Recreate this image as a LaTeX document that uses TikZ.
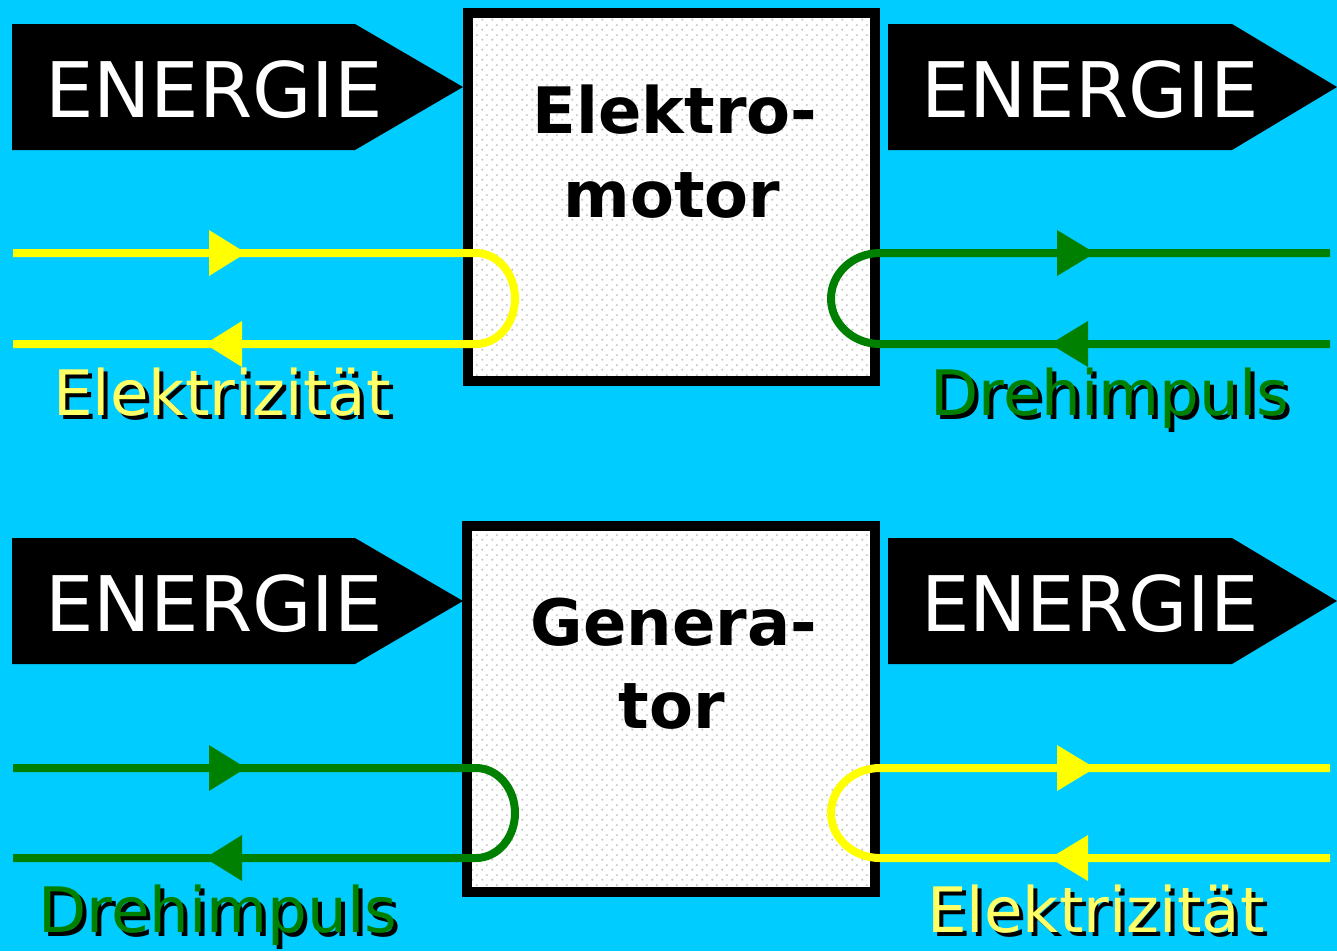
\documentclass[tikz,border=0pt]{standalone}
\usepackage{fontspec}
\setmainfont{DejaVu Sans}
\usetikzlibrary{patterns.meta}
\definecolor{bgcyan}{RGB}{0,204,255}
\definecolor{lyellow}{RGB}{255,255,0}
\definecolor{lgreen}{RGB}{0,128,0}
\definecolor{labyellow}{RGB}{255,255,102}
\tikzdeclarepattern{
  name=boxdots, type=colored,
  bounding box={(0pt,0pt) and (7.5pt,7.5pt)},
  tile size={(7.5pt,7.5pt)},
  code={\fill[gray!45] (1.9pt,1.9pt) circle (0.95pt);
        \fill[gray!45] (5.65pt,5.65pt) circle (0.95pt);}
}
\newcommand\shtext[2]{\makebox[0pt][l]{\kern3pt\raisebox{-3pt}{\textcolor{black}{#2}}}\textcolor{#1}{#2}}
\tikzset{
  energyarrow/.style={fill=black},
  energytext/.style={text=white, font=\fontsize{57.5}{60}\selectfont, inner sep=0pt, anchor=base},
  boxframe/.style={draw=black, line width=7.5pt},
  boxtext/.style={text=black, font=\bfseries\fontsize{48}{52}\selectfont, inner sep=0pt, anchor=base},
  flowY/.style={draw=lyellow, line width=6pt},
  flowG/.style={draw=lgreen, line width=6pt},
  headY/.style={fill=lyellow},
  headG/.style={fill=lgreen},
  labtext/.style={font=\fontsize{47}{50}\selectfont, inner sep=0pt, anchor=base},
}
\begin{document}
\begin{tikzpicture}[x=0.75pt,y=-0.75pt]
\useasboundingbox (0,0) rectangle (1337,951);
\fill[bgcyan] (0,0) rectangle (1337,951);

% ---------- ENERGIE arrows ----------
\fill[energyarrow] (12,24) -- (355,24) -- (463,87) -- (355,150) -- (12,150) -- cycle;
\fill[energyarrow] (888,24) -- (1232,24) -- (1337,87) -- (1232,150) -- (888,150) -- cycle;
\fill[energyarrow] (12,538) -- (355,538) -- (463,601) -- (355,664) -- (12,664) -- cycle;
\fill[energyarrow] (888,538) -- (1232,538) -- (1337,601) -- (1232,664) -- (888,664) -- cycle;
\node[energytext] (e1) at (214,117) {ENERGIE};
\node[energytext] (e2) at (1090,117) {ENERGIE};
\node[energytext] (e3) at (214,631) {ENERGIE};
\node[energytext] (e4) at (1090,631) {ENERGIE};

% ---------- boxes ----------
\fill[white] (468,13) rectangle (875,381);
\fill[pattern=boxdots] (468,13) rectangle (875,381);
\fill[white] (467,526) rectangle (875,892);
\fill[pattern=boxdots] (467,526) rectangle (875,892);
\node[boxframe, minimum width=305.25pt, minimum height=276pt, inner sep=0pt] (motor) at (671.5,197) {};
\node[boxframe, minimum width=306pt, minimum height=274.5pt, inner sep=0pt] (gen) at (671,709) {};
\node[boxtext] (m1) at (675,133) {Elektro-};
\node[boxtext] (m2) at (672,217) {motor};
\node[boxtext] (g1) at (674,645) {Genera-};
\node[boxtext] (g2) at (672,728) {tor};

% ---------- top flows ----------
\coordinate (a1) at (13,253);  \coordinate (a2) at (476,253);
\coordinate (a3) at (476,344); \coordinate (a4) at (13,344);
\draw[flowY] (a1) -- (a2) arc[start angle=-90, end angle=90, x radius=39, y radius=45.5] -- (a4);
\fill[headY] (209,230) -- (246,253) -- (209,276) -- cycle;
\fill[headY] (242,321) -- (205,344) -- (242,367) -- cycle;

\coordinate (b1) at (1330,253); \coordinate (b2) at (880,253);
\coordinate (b3) at (880,344);  \coordinate (b4) at (1330,344);
\draw[flowG] (b1) -- (b2) arc[start angle=-90, end angle=-270, x radius=49, y radius=45.5] -- (b4);
\fill[headG] (1057,230) -- (1095,253) -- (1057,276) -- cycle;
\fill[headG] (1088,321) -- (1050,344) -- (1088,367) -- cycle;

% ---------- bottom flows ----------
\coordinate (c1) at (13,768);  \coordinate (c2) at (476,768);
\coordinate (c3) at (476,858); \coordinate (c4) at (13,858);
\draw[flowG] (c1) -- (c2) arc[start angle=-90, end angle=90, x radius=39, y radius=45] -- (c4);
\fill[headG] (209,745) -- (246,768) -- (209,791) -- cycle;
\fill[headG] (242,835) -- (205,858) -- (242,881) -- cycle;

\coordinate (d1) at (1330,768); \coordinate (d2) at (880,768);
\coordinate (d3) at (880,858);  \coordinate (d4) at (1330,858);
\draw[flowY] (d1) -- (d2) arc[start angle=-90, end angle=-270, x radius=49, y radius=45] -- (d4);
\fill[headY] (1057,745) -- (1095,768) -- (1057,791) -- cycle;
\fill[headY] (1088,835) -- (1050,858) -- (1088,881) -- cycle;

% ---------- labels ----------
\node[labtext] (l1) at (222,415) {\shtext{labyellow}{Elektrizität}};
\node[labtext] (l2) at (1110,415) {\shtext{lgreen}{Drehimpuls}};
\node[labtext] (l3) at (218,932) {\shtext{lgreen}{Drehimpuls}};
\node[labtext] (l4) at (1096,932) {\shtext{labyellow}{Elektrizität}};
\end{tikzpicture}
\end{document}
